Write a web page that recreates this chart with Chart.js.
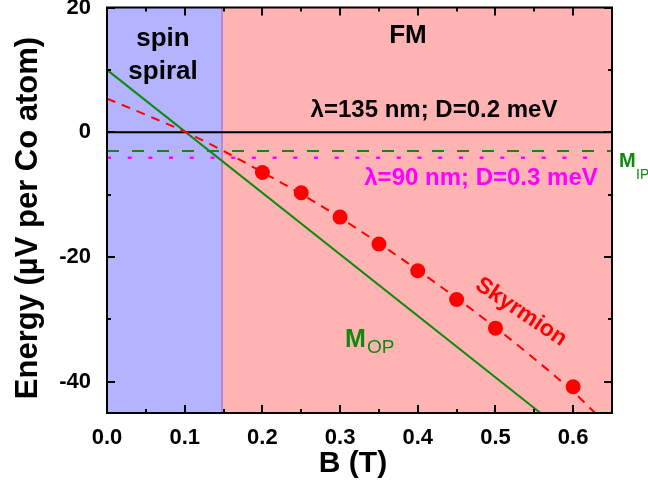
<!DOCTYPE html>
<html>
<head>
<meta charset="utf-8">
<script src="https://cdn.jsdelivr.net/npm/chart.js@4.4.1/dist/chart.umd.min.js"></script>
<style>
  html, body { margin: 0; padding: 0; background: #fff; }
  canvas { display: block; }
</style>
</head>
<body>
<canvas id="energyChart" width="648" height="488"></canvas>
<script>
// B (T) and energy (µV per Co atom)
const skyB = [0.2, 0.25, 0.3, 0.35, 0.4, 0.45, 0.5, 0.6];
const skyE = [-6.45, -9.7, -13.6, -17.9, -22.2, -26.8, -31.4, -40.8];

// dashed skyrmion fit
const fitB = [0, 0.05, 0.1, 0.15, 0.2, 0.25, 0.3, 0.35, 0.4, 0.45, 0.5, 0.55, 0.6, 0.63];
const fitE = [5.4, 2.8, 0.1, -3.0, -6.4, -9.9, -13.7, -17.8, -22.1, -26.6, -31.3, -36.3, -41.6, -45.2];

// out-of-plane FM
const mopB = [0, 0.558];
const mopE = [10, -45];

// in-plane FM
const mipB = [0, 0.65];
const mipE = [-3, -3];

// spin spirals
const sp135B = [0, 0.65];
const sp135E = [0, 0];
const sp90B = [0, 0.637];
const sp90E = [-4.1, -4.1];

const phaseEdge = 0.148; // spin spiral | FM

const xTicks = [0, 0.1, 0.2, 0.3, 0.4, 0.5, 0.6];
const xMinor = [0.05, 0.15, 0.25, 0.35, 0.45, 0.55];
const yTicks = [-40, -20, 0, 20];
const yMinor = [-30, -10, 10];

const FONT = "'Liberation Sans', Arial, sans-serif";

function pts(xs, ys) {
  return xs.map((v, i) => ({ x: v, y: ys[i] }));
}

const phasePlugin = {
  id: "phases",
  beforeDatasetsDraw(chart) {
    const { ctx, chartArea: a } = chart;
    const edge = chart.scales.x.getPixelForValue(phaseEdge);
    ctx.save();
    ctx.fillStyle = "#b3b3ff";
    ctx.fillRect(a.left, a.top, edge - a.left, a.bottom - a.top);
    ctx.fillStyle = "#ffb3b3";
    ctx.fillRect(edge, a.top, a.right - edge, a.bottom - a.top);
    ctx.strokeStyle = "#b388d8";
    ctx.lineWidth = 2;
    ctx.beginPath();
    ctx.moveTo(edge, a.top);
    ctx.lineTo(edge, a.bottom);
    ctx.stroke();
    ctx.restore();
  },
};

const framePlugin = {
  id: "frame",
  afterDatasetsDraw(chart) {
    const { ctx, chartArea: a } = chart;
    const { x, y } = chart.scales;
    ctx.save();
    ctx.strokeStyle = "#000";
    ctx.lineWidth = 2;
    ctx.beginPath();
    const tickX = (v, len) => {
      const px = Math.round(x.getPixelForValue(v));
      ctx.moveTo(px, a.bottom);
      ctx.lineTo(px, a.bottom - len);
      ctx.moveTo(px, a.top);
      ctx.lineTo(px, a.top + len);
    };
    const tickY = (v, len) => {
      const py = Math.round(y.getPixelForValue(v));
      ctx.moveTo(a.left, py);
      ctx.lineTo(a.left + len, py);
      ctx.moveTo(a.right, py);
      ctx.lineTo(a.right - len, py);
    };
    xTicks.forEach((v) => tickX(v, 8));
    xMinor.forEach((v) => tickX(v, 4));
    yTicks.forEach((v) => tickY(v, 8));
    yMinor.forEach((v) => tickY(v, 4));
    ctx.stroke();
    ctx.strokeRect(a.left, a.top, a.right - a.left, a.bottom - a.top);
    ctx.restore();
  },
};

const textPlugin = {
  id: "texts",
  afterDraw(chart) {
    const ctx = chart.ctx;
    ctx.save();
    ctx.textBaseline = "alphabetic";

    ctx.fillStyle = "#000";
    ctx.textAlign = "center";
    ctx.font = "bold 26px " + FONT;
    ctx.fillText("spin", 163, 46);
    ctx.fillText("spiral", 163, 79);
    ctx.fillText("FM", 408, 43);

    ctx.font = "bold 24px " + FONT;
    ctx.fillText("λ=135 nm; D=0.2 meV", 434, 117);
    ctx.fillStyle = "#ff00ff";
    ctx.fillText("λ=90 nm; D=0.3 meV", 481, 185);

    // M_IP
    ctx.textAlign = "left";
    ctx.fillStyle = "#0f8a0f";
    ctx.font = "bold 20px " + FONT;
    ctx.fillText("M", 619, 167);
    ctx.font = "14px " + FONT;
    ctx.fillText("IP", 636, 179);

    // M_OP
    ctx.font = "bold 25px " + FONT;
    ctx.fillText("M", 345, 347);
    ctx.font = "19px " + FONT;
    ctx.fillText("OP", 367, 353);

    // Skyrmion
    ctx.save();
    ctx.fillStyle = "#ff0000";
    ctx.font = "bold 23px " + FONT;
    ctx.translate(521, 312);
    ctx.rotate((34 * Math.PI) / 180);
    ctx.textAlign = "center";
    ctx.textBaseline = "middle";
    ctx.fillText("Skyrmion", 0, 0);
    ctx.restore();

    // axis titles
    ctx.fillStyle = "#000";
    ctx.textAlign = "center";
    ctx.font = "bold 30px " + FONT;
    ctx.fillText("B (T)", 353, 472);
    ctx.save();
    ctx.translate(37, 218);
    ctx.rotate(-Math.PI / 2);
    ctx.font = "bold 31px " + FONT;
    ctx.fillText("Energy (µV per Co atom)", 0, 0);
    ctx.restore();

    ctx.restore();
  },
};

const ctx = document.getElementById("energyChart").getContext("2d");
new Chart(ctx, {
  type: "scatter",
  data: {
    datasets: [
      {
        label: "Skyrmion",
        data: pts(skyB, skyE),
        pointRadius: 7.5,
        pointBackgroundColor: "#ff0000",
        pointBorderWidth: 0,
        showLine: false,
        clip: 0,
      },
      {
        label: "Skyrmion fit",
        data: pts(fitB, fitE),
        showLine: true,
        borderColor: "#ff0000",
        borderWidth: 2,
        borderDash: [9, 7],
        pointRadius: 0,
        tension: 0.4,
        cubicInterpolationMode: "monotone",
        clip: 0,
      },
      {
        label: "M_OP",
        data: pts(mopB, mopE),
        showLine: true,
        borderColor: "#0f8a0f",
        borderWidth: 2,
        pointRadius: 0,
        clip: 0,
      },
      {
        label: "λ=135 nm",
        data: pts(sp135B, sp135E),
        showLine: true,
        borderColor: "#000",
        borderWidth: 2,
        pointRadius: 0,
        clip: 0,
      },
      {
        label: "M_IP",
        data: pts(mipB, mipE),
        showLine: true,
        borderColor: "#0f8a0f",
        borderWidth: 2,
        borderDash: [12, 13],
        pointRadius: 0,
        clip: 0,
      },
      {
        label: "λ=90 nm",
        data: pts(sp90B, sp90E),
        showLine: true,
        borderColor: "#ff00ff",
        borderWidth: 2.5,
        borderDash: [4, 16.7],
        pointRadius: 0,
        clip: 0,
      },
    ],
  },
  options: {
    responsive: false,
    animation: false,
    devicePixelRatio: 1,
    layout: { padding: { top: 7, right: 36, left: 0, bottom: 0 } },
    plugins: {
      legend: { display: false },
      tooltip: { enabled: false },
    },
    scales: {
      x: {
        type: "linear",
        min: 0,
        max: 0.65,
        grid: { display: false, drawTicks: false },
        border: { display: false },
        afterBuildTicks: (s) => {
          s.ticks = xTicks.map((v) => ({ value: v }));
        },
        afterFit: (s) => {
          s.height = 75;
          s.paddingLeft = 0;
          s.paddingRight = 0;
        },
        ticks: {
          padding: 12,
          color: "#000",
          maxRotation: 0,
          font: { family: FONT, size: 22, weight: "bold" },
          callback: (v) => Number(v).toFixed(1),
        },
      },
      y: {
        type: "linear",
        min: -45,
        max: 20,
        grid: { display: false, drawTicks: false },
        border: { display: false },
        afterBuildTicks: (s) => {
          s.ticks = yTicks.map((v) => ({ value: v }));
        },
        afterFit: (s) => {
          s.width = 107;
          s.paddingTop = 0;
          s.paddingBottom = 0;
        },
        ticks: {
          padding: 16,
          color: "#000",
          font: { family: FONT, size: 22, weight: "bold" },
          callback: (v) => String(v),
        },
      },
    },
  },
  plugins: [phasePlugin, framePlugin, textPlugin],
});
</script>
</body>
</html>
